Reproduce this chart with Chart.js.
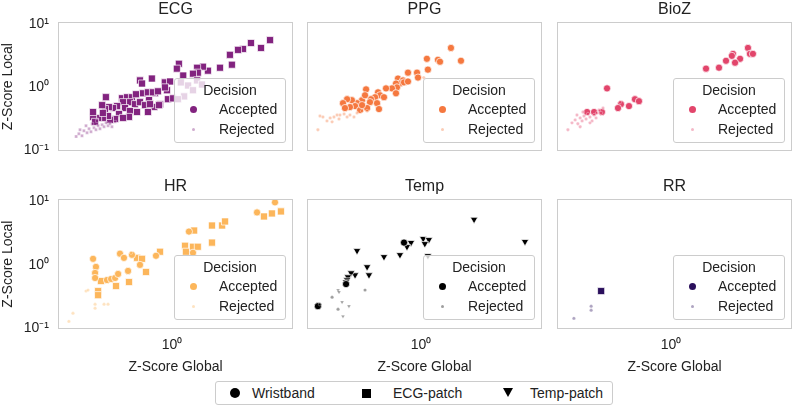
<!DOCTYPE html>
<html>
<head>
<meta charset="utf-8">
<script src="https://cdn.jsdelivr.net/npm/chart.js@4/dist/chart.umd.min.js"></script>
<style>
  body { margin: 0; background: #fff; }
  #fig { position: relative; width: 793px; height: 406px; overflow: hidden;
         font-family: "Liberation Sans", Arial, sans-serif; color: #222; }
  #fig canvas { position: absolute; }
  .dec { position: absolute; width: 112px; height: 65px; box-sizing: border-box;
         border: 1px solid #cccccc; border-radius: 3px; background: rgba(255,255,255,0.8); font-size: 14px; }
  .dec .ttl { position: absolute; left: 0; width: 110px; top: 3px; line-height: 16px; text-align: center; }
  .dec .lbl { position: absolute; left: 44px; line-height: 16px; }
  .dot { position: absolute; border-radius: 50%; }
  #devices { position: absolute; left: 215px; top: 381px; width: 398px; height: 24px; box-sizing: border-box;
             border: 1px solid #cccccc; border-radius: 3px; font-size: 14px; }
  #devices span { position: absolute; top: 3px; line-height: 16px; }
  #devices .mk { position: absolute; background: #000; }
</style>
</head>
<body>
<div id="fig"></div>
<script>
// sensor panels, in grid order
const panelNames = ["ECG", "PPG", "BioZ", "HR", "Temp", "RR"];
const panelColors = ["#82237f", "#f5783f", "#e2456b", "#fcb65b", "#000000", "#2a0f5c"];
const deviceNames = ["Wristband", "ECG-patch", "Temp-patch"];
const decisionNames = ["Accepted", "Rejected"];

const xTickValues = [1];
const xTickLabels = ["10\u2070"];
const yTickValues = [0.1, 1, 10];
const yTickLabels = ["10\u207B\u00B9", "10\u2070", "10\u00B9"];

// [z-score global, z-score local]
const ecgAcceptedPatch = [
  [5.68, 5.62], [4.84, 4.22], [4.05, 5.05], [3.52, 4.07], [3.22, 3.93], [2.79, 3.28], [2.89, 2.29],
  [2.34, 2.05], [1.89, 1.84], [1.73, 2.13], [1.56, 2.05], [1.58, 1.71], [1.45, 1.65], [1.13, 2.37],
  [1.09, 1.98], [1.22, 1.54], [0.567, 1.29], [0.70, 1.38], [0.588, 1.15], [0.88, 1.20], [0.966, 1.24],
  [0.915, 0.90], [0.93, 0.65], [1.02, 0.67], [0.31, 0.70], [0.74, 0.81], [0.665, 0.63], [0.81, 0.54],
  [0.73, 0.49], [0.412, 0.673], [0.451, 0.698], [0.492, 0.698], [0.598, 0.806], [0.653, 0.835],
  [0.714, 0.835], [0.78, 0.866], [0.883, 1.0], [0.528, 0.778], [0.475, 0.583], [0.519, 0.542],
  [0.567, 0.583], [0.62, 0.523], [0.677, 0.542], [0.794, 0.523], [0.653, 0.407], [0.42, 0.583],
  [0.435, 0.47], [0.378, 0.505], [0.352, 0.47], [0.327, 0.487], [0.305, 0.453], [0.29, 0.523],
  [0.475, 0.422], [0.538, 0.407], [0.467, 0.34], [0.391, 0.379], [0.42, 0.328], [0.365, 0.316],
  [0.333, 0.305], [0.322, 0.352], [0.294, 0.328], [0.27, 0.328], [0.247, 0.34], [0.256, 0.284],
  [0.247, 0.407], [0.294, 0.393], [1.17, 1.20], [1.33, 1.07], [1.45, 0.90], [1.24, 0.72],
  [1.56, 1.29], [1.70, 1.11], [1.11, 0.65]
];
const ecgRejectedPatch = [
  [0.183, 0.166], [0.192, 0.184], [0.203, 0.171], [0.21, 0.205], [0.222, 0.191], [0.23, 0.221],
  [0.238, 0.198], [0.251, 0.229], [0.26, 0.213], [0.27, 0.246], [0.279, 0.221], [0.29, 0.255],
  [0.30, 0.237], [0.311, 0.274], [0.322, 0.246], [0.333, 0.265], [0.218, 0.246], [0.243, 0.265],
  [0.265, 0.294], [0.345, 0.237], [0.365, 0.284], [0.196, 0.213]
];
const ppgAcceptedWrist = [
  [1.70, 4.22], [1.11, 2.84], [1.35, 2.74], [1.40, 2.55], [2.03, 2.64], [1.13, 1.91], [0.932, 1.71],
  [0.794, 1.71], [0.948, 1.43], [0.665, 1.38], [0.727, 1.29], [0.689, 1.15], [0.642, 1.15],
  [0.653, 1.0], [0.598, 0.965], [0.642, 0.806], [0.538, 0.965], [0.467, 0.835], [0.378, 0.93],
  [0.484, 0.75], [0.519, 0.698], [0.443, 0.698], [0.412, 0.649], [0.405, 0.583], [0.459, 0.562],
  [0.352, 0.626], [0.322, 0.562], [0.294, 0.626], [0.27, 0.649], [0.251, 0.562], [0.311, 0.505],
  [0.284, 0.487], [0.26, 0.47], [0.34, 0.437], [0.385, 0.47], [0.352, 0.523], [0.475, 0.453],
  [0.371, 0.75], [0.74, 1.20], [0.794, 1.24]
];
const ppgRejectedWrist = [
  [0.167, 0.352], [0.189, 0.294], [0.2, 0.328], [0.214, 0.34], [0.226, 0.365], [0.238, 0.365],
  [0.256, 0.379], [0.27, 0.34], [0.207, 0.284], [0.234, 0.316], [0.284, 0.365], [0.322, 0.393],
  [0.352, 0.422], [0.385, 0.422], [0.176, 0.34], [0.161, 0.213], [0.305, 0.34], [1.05, 1.43]
];
const biozAcceptedWrist = [
  [3.91, 4.22], [4.05, 3.40], [4.27, 3.40], [3.0, 3.40], [2.94, 3.16], [3.40, 2.84], [3.11, 2.46],
  [2.65, 2.64], [2.34, 2.05], [1.86, 1.98], [0.322, 0.965], [0.528, 0.649], [0.567, 0.604],
  [0.412, 0.542], [0.391, 0.47], [0.475, 0.505], [0.226, 0.407], [0.256, 0.407], [0.294, 0.407]
];
const biozRejectedWrist = [
  [0.161, 0.213], [0.173, 0.274], [0.183, 0.305], [0.192, 0.265], [0.2, 0.328], [0.207, 0.294],
  [0.214, 0.352], [0.222, 0.316], [0.23, 0.379], [0.238, 0.34], [0.247, 0.294], [0.256, 0.365],
  [0.27, 0.393], [0.279, 0.437], [0.29, 0.393], [0.21, 0.407], [0.189, 0.365], [0.238, 0.274],
  [0.265, 0.328], [0.2, 0.237], [0.30, 0.47], [0.405, 0.583]
];
const hrAcceptedWrist = [
  [0.247, 1.245], [0.26, 0.93], [0.256, 0.746], [0.256, 0.622], [0.316, 0.578], [0.34, 0.60],
  [0.365, 0.622], [0.385, 0.72], [0.398, 1.50], [0.427, 1.29], [0.492, 1.44], [0.567, 1.0],
  [0.459, 0.803], [0.753, 1.39], [1.35, 3.34], [4.51, 6.69], [6.2, 9.64], [1.45, 1.55]
];
const hrAcceptedPatch = [
  [0.284, 0.557], [0.371, 0.464], [0.27, 0.387], [0.27, 0.334], [0.538, 1.29], [0.588, 1.245],
  [0.631, 0.774], [0.467, 0.537], [0.809, 1.61], [1.48, 3.47], [1.26, 2.0], [1.28, 1.61],
  [1.45, 1.93], [1.58, 1.93], [2.03, 4.16], [2.43, 4.16], [2.56, 4.82], [2.03, 2.24],
  [5.1, 5.78], [5.87, 6.45], [6.89, 6.94]
];
const hrRejectedWrist = [
  [0.484, 1.55], [0.218, 0.387], [0.226, 0.401], [0.256, 0.24], [0.256, 0.208], [0.30, 0.24],
  [0.322, 0.24], [0.173, 0.173], [0.161, 0.129]
];
const tempAcceptedTemp = [
  [2.56, 5.18], [6.31, 2.32], [1.04, 2.59], [1.15, 2.49], [1.07, 2.15], [0.838, 2.24], [0.78, 1.93],
  [0.689, 1.44], [0.519, 1.34], [0.322, 1.67], [0.385, 0.93], [0.398, 0.694], [0.311, 0.694],
  [0.29, 0.746], [0.274, 0.645], [0.27, 0.578], [0.265, 0.537], [1.13, 1.39]
];
const tempAcceptedWrist = [[0.74, 2.24], [0.265, 0.499], [0.161, 0.224]];
const tempRejectedTemp = [[0.23, 0.401], [0.234, 0.373], [0.247, 0.259], [0.279, 0.224], [0.251, 0.155]];
const tempRejectedWrist = [[0.167, 0.24], [0.207, 0.31], [0.23, 0.20], [0.371, 0.401]];
const rrAcceptedPatch = [[0.29, 0.387]];
const rrRejectedWrist = [[0.243, 0.224], [0.243, 0.193], [0.179, 0.144]];

// [points, device, decision] per panel, drawn in this order
const panelSeries = [
  [[ecgRejectedPatch, "ECG-patch", "Rejected"], [ecgAcceptedPatch, "ECG-patch", "Accepted"]],
  [[ppgRejectedWrist, "Wristband", "Rejected"], [ppgAcceptedWrist, "Wristband", "Accepted"]],
  [[biozRejectedWrist, "Wristband", "Rejected"], [biozAcceptedWrist, "Wristband", "Accepted"]],
  [[hrRejectedWrist, "Wristband", "Rejected"], [hrAcceptedWrist, "Wristband", "Accepted"],
   [hrAcceptedPatch, "ECG-patch", "Accepted"]],
  [[tempRejectedWrist, "Wristband", "Rejected"], [tempRejectedTemp, "Temp-patch", "Rejected"],
   [tempAcceptedWrist, "Wristband", "Accepted"], [tempAcceptedTemp, "Temp-patch", "Accepted"]],
  [[rrRejectedWrist, "Wristband", "Rejected"], [rrAcceptedPatch, "ECG-patch", "Accepted"]]
];

const FONT = '"Liberation Sans", Arial, sans-serif';
const TXT = "#222222";
const markers = {
  "Wristband": { style: "circle", rot: 0, acc: 3.6, rej: 1.7 },
  "ECG-patch": { style: "rect", rot: 0, acc: 5, rej: 2.1 },
  "Temp-patch": { style: "triangle", rot: 180, acc: 4.3, rej: 2.2 }
};

const alpha = (hex, a) => {
  const n = parseInt(hex.slice(1), 16);
  return `rgba(${n >> 16}, ${(n >> 8) & 255}, ${n & 255}, ${a})`;
};

// every canvas = title (22) + plot (~129) + x-axis band (47)
const colLeft = [0, 307, 557];
const colWidth = [294, 235, 235];
const areaLeft = [58, 307, 557];
const rowTop = [0, 177];
const rowHeight = [198, 199];
const areaTop = [22, 199];

const frame = {
  id: "frame",
  afterDraw(chart) {
    const { ctx, chartArea: a } = chart;
    ctx.save();
    ctx.strokeStyle = "#cccccc";
    ctx.lineWidth = 1;
    ctx.strokeRect(Math.round(a.left) + 0.5, Math.round(a.top) + 0.5,
      Math.round(a.right - a.left) - 1, Math.round(a.bottom - a.top) - 1);
    ctx.restore();
  }
};

const fig = document.getElementById("fig");

panelNames.forEach((name, i) => {
  const row = Math.floor(i / 3), col = i % 3;
  const color = panelColors[i];
  const showX = row === 1, showY = col === 0;
  const cv = document.createElement("canvas");
  cv.width = colWidth[col];
  cv.height = rowHeight[row];
  cv.style.left = colLeft[col] + "px";
  cv.style.top = rowTop[row] + "px";
  cv.style.width = colWidth[col] + "px";
  cv.style.height = rowHeight[row] + "px";
  fig.appendChild(cv);

  const datasets = panelSeries[i].map(([pts, device, decision]) => {
    const m = markers[device];
    const acc = decision === decisionNames[0];
    return {
      label: `${device} ${decision}`,
      data: pts.map(([x, y]) => ({ x, y })),
      pointStyle: m.style,
      pointRotation: m.rot,
      pointRadius: acc ? m.acc : m.rej,
      backgroundColor: acc ? color : alpha(color, 0.38),
      borderColor: "#ffffff",
      borderWidth: acc ? 0.7 : 0.3
    };
  });

  new Chart(cv, {
    type: "scatter",
    data: { datasets },
    options: {
      responsive: false,
      animation: false,
      devicePixelRatio: 1,
      events: [],
      layout: { padding: { left: 0, right: col === 0 ? 1 : 0, top: 0, bottom: 0 }, autoPadding: false },
      plugins: {
        legend: { display: false },
        tooltip: { enabled: false },
        title: {
          display: true, text: name, fullSize: false, color: TXT,
          font: { family: FONT, size: 16, weight: "normal" }, padding: { top: 0, bottom: 3 }
        }
      },
      scales: {
        x: {
          type: "logarithmic", min: 0.1327, max: 8.53, display: true,
          grid: { display: false, drawTicks: false }, border: { display: false },
          afterBuildTicks: (s) => { s.ticks = xTickValues.map((v) => ({ value: v })); },
          afterFit: (s) => { s.height = 47; },
          ticks: {
            display: showX, padding: 8, color: TXT, font: { family: FONT, size: 14 }, autoSkip: false, maxRotation: 0,
            callback: (v) => xTickLabels[xTickValues.indexOf(v)]
          },
          title: { display: showX, text: "Z-Score Global", color: TXT, font: { family: FONT, size: 14 }, padding: 0 }
        },
        y: {
          type: "logarithmic", min: 0.098, max: 10.8, display: showY,
          grid: { display: false, drawTicks: false }, border: { display: false },
          afterBuildTicks: (s) => { s.ticks = yTickValues.map((v) => ({ value: v })); },
          afterFit: (s) => { s.width = showY ? 58 : 0; },
          ticks: {
            padding: 9, color: TXT, font: { family: FONT, size: 14 }, autoSkip: false,
            callback: (v) => yTickLabels[yTickValues.indexOf(v)]
          },
          title: { display: true, text: "Z-Score Local", color: TXT, font: { family: FONT, size: 14 }, padding: 0 }
        }
      }
    },
    plugins: [frame]
  });

  // decision legend inside the panel
  const box = document.createElement("div");
  box.className = "dec";
  box.style.left = areaLeft[col] + 116 + "px";
  box.style.top = areaTop[row] + 56 + "px";
  box.innerHTML =
    `<div class="ttl">Decision</div>` +
    `<div class="dot" style="left:14.5px;top:26.5px;width:7px;height:7px;background:${color}"></div>` +
    `<div class="lbl" style="top:22px">${decisionNames[0]}</div>` +
    `<div class="dot" style="left:16.5px;top:48.5px;width:3px;height:3px;background:${alpha(color, 0.38)}"></div>` +
    `<div class="lbl" style="top:42px">${decisionNames[1]}</div>`;
  fig.appendChild(box);
});

// device legend under the grid
const dev = document.createElement("div");
dev.id = "devices";
dev.innerHTML =
  `<div class="mk" style="left:14px;top:6px;width:10px;height:10px;border-radius:50%"></div>` +
  `<span style="left:36px">${deviceNames[0]}</span>` +
  `<div class="mk" style="left:146px;top:6.5px;width:9px;height:9px"></div>` +
  `<span style="left:177px">${deviceNames[1]}</span>` +
  `<div class="mk" style="left:287px;top:6px;width:0;height:0;background:none;border-left:5px solid transparent;border-right:5px solid transparent;border-top:9px solid #000"></div>` +
  `<span style="left:314px">${deviceNames[2]}</span>`;
fig.appendChild(dev);
</script>
</body>
</html>
